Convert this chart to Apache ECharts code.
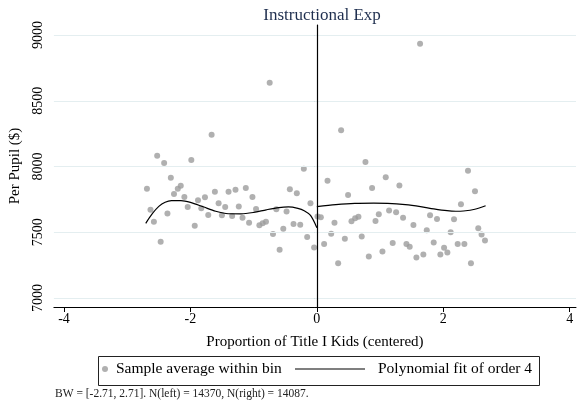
<!DOCTYPE html>
<html>
<head>
<meta charset="utf-8">
<script src="https://cdn.jsdelivr.net/npm/echarts@6/dist/echarts.min.js"></script>
<style>html,body{margin:0;padding:0;background:#fff}#c{width:583px;height:411px}</style>
</head>
<body>
<div id="c"></div>
<script>
const titleText = 'Instructional Exp';
const xTicks = [-4, -2, 0, 2, 4];
const yTicks = [7000, 7500, 8000, 8500, 9000];

const binXLeft = [-2.688,-2.632,-2.578,-2.526,-2.471,-2.416,-2.364,-2.310,-2.260,-2.200,
  -2.153,-2.096,-2.043,-1.986,-1.932,-1.880,-1.828,-1.770,-1.718,-1.665,
  -1.613,-1.554,-1.502,-1.450,-1.397,-1.340,-1.287,-1.235,-1.176,-1.124,
  -1.072,-1.019,-0.962,-0.909,-0.857,-0.805,-0.746,-0.694,-0.641,-0.589,
  -0.531,-0.479,-0.427,-0.369,-0.317,-0.263,-0.206,-0.153,-0.101,-0.043];
const binYLeft = [7831,7672,7580,8082,7428,8027,7643,7915,7791,7831,
  7854,7768,7692,8049,7550,7743,7682,7766,7631,8242,
  7808,7720,7629,7692,7808,7624,7824,7697,7611,7837,
  7573,7768,7677,7553,7568,7580,8637,7487,7675,7367,
  7527,7659,7827,7563,7796,7557,7983,7464,7720,7384];

const binXRight = [0.011,0.063,0.115,0.169,0.227,0.279,0.337,0.384,0.443,0.494,
  0.548,0.606,0.658,0.710,0.769,0.822,0.874,0.928,0.980,1.038,
  1.090,1.143,1.200,1.254,1.306,1.364,1.417,1.469,1.528,1.575,
  1.633,1.685,1.739,1.791,1.849,1.901,1.954,2.013,2.065,2.117,
  2.170,2.228,2.280,2.334,2.391,2.438,2.502,2.554,2.606,2.660];
const binYRight = [7621,7614,7411,7891,7489,7573,7265,8275,7451,7784,
  7583,7606,7619,7468,8034,7316,7837,7586,7637,7354,
  7919,7665,7418,7652,7856,7611,7411,7390,7555,7309,
  8934,7332,7515,7629,7423,7601,7332,7383,7347,7500,
  7599,7411,7713,7411,7967,7265,7812,7530,7484,7438];

const fitXLeft = [-2.707,-2.6,-2.5,-2.4,-2.3,-2.15,-2.0,-1.8,-1.6,-1.4,-1.2,-1.0,-0.8,-0.6,-0.45,-0.3,-0.2,-0.1,0];
const fitYLeft = [7568,7643,7697,7728,7740,7740,7727,7694,7660,7641,7640,7651,7671,7688,7693,7682,7664,7628,7535];
const fitXRight = [0,0.3,0.6,0.9,1.12,1.4,1.64,1.85,2.06,2.2,2.32,2.5,2.67];
const fitYRight = [7695,7710,7720,7722,7720,7710,7695,7678,7664,7660,7662,7675,7702];

const cutoff = 0;
const scatterName = 'Sample average within bin';
const fitName = 'Polynomial fit of order 4';
const footnote = 'BW = [-2.71, 2.71]. N(left) = 14370, N(right) = 14087.';

const serif = '"Liberation Serif", "DejaVu Serif", serif';
const zip = (a, b) => a.map((v, i) => [v, b[i]]);

const chart = echarts.init(document.getElementById('c'), null, {renderer: 'canvas'});
chart.setOption({
  animation: false,
  backgroundColor: '#ffffff',
  title: {
    text: titleText, left: 317, top: 2, textAlign: 'center',
    textStyle: {fontFamily: serif, fontSize: 17, fontWeight: 'normal', color: '#1f2f4f'}
  },
  grid: {left: 53, right: 7, top: 25, bottom: 104, containLabel: false},
  xAxis: {
    type: 'value', min: -4.16, max: 4.1,
    name: 'Proportion of Title I Kids (centered)', nameLocation: 'middle', nameGap: 28,
    nameTextStyle: {fontFamily: serif, fontSize: 15, color: '#000'},
    axisLine: {show: true, lineStyle: {color: '#000', width: 1}},
    axisTick: {show: true, length: 5, customValues: xTicks, lineStyle: {color: '#000'}},
    axisLabel: {show: true, customValues: xTicks, margin: 5, fontFamily: serif, fontSize: 14, color: '#000'},
    splitLine: {show: false}
  },
  yAxis: {
    type: 'value', min: 6932, max: 9076,
    name: 'Per Pupil ($)', nameLocation: 'middle', nameGap: 25, nameRotate: 90,
    nameTextStyle: {fontFamily: serif, fontSize: 15, color: '#000'},
    axisLine: {show: true, lineStyle: {color: '#000', width: 1}},
    axisTick: {show: true, length: 5, customValues: yTicks, lineStyle: {color: '#000'}},
    axisLabel: {show: true, customValues: yTicks, rotate: 90, margin: 9, fontFamily: serif, fontSize: 14, color: '#000',
      formatter: v => String(v)},
    splitLine: {show: false}
  },
  legend: [
    {
      data: [{name: scatterName, icon: 'circle'}],
      left: 102, top: 361, padding: 0, itemWidth: 6, itemHeight: 6,
      textStyle: {fontFamily: serif, fontSize: 15.5, color: '#000', padding: [0, 0, 0, 3]},
      selectedMode: false
    },
    {
      data: [{name: fitName, icon: 'rect'}],
      left: 295, top: 361, padding: 0, itemWidth: 70, itemHeight: 1.2,
      itemStyle: {color: '#000'},
      textStyle: {fontFamily: serif, fontSize: 15.5, color: '#000', padding: [0, 0, 0, 8]},
      selectedMode: false
    }
  ],
  graphic: [
    {type: 'rect', left: 96, top: 354, shape: {width: 441, height: 29},
     style: {fill: 'none', stroke: '#222', lineWidth: 1}, silent: true},
    {type: 'text', left: 55, top: 388,
     style: {text: footnote, font: '11.5px ' + serif, fill: '#222'}}
  ],
  series: [
    {
      type: 'line', name: '_grid', data: [], silent: true,
      markLine: {
        silent: true, symbol: 'none', label: {show: false}, animation: false,
        lineStyle: {color: '#e4eef0', width: 1, type: 'solid'},
        data: yTicks.map(v => ({yAxis: v}))
      },
      z: 1
    },
    {
      type: 'scatter', name: scatterName, data: zip(binXLeft, binYLeft).concat(zip(binXRight, binYRight)),
      symbol: 'circle', symbolSize: 6, itemStyle: {color: '#9c9c9c'}, z: 3
    },
    {
      type: 'line', name: fitName, data: zip(fitXLeft, fitYLeft), smooth: 0.3,
      symbol: 'none', lineStyle: {color: '#000', width: 1.2}, z: 4
    },
    {
      type: 'line', name: fitName, data: zip(fitXRight, fitYRight), smooth: 0.3,
      symbol: 'none', lineStyle: {color: '#000', width: 1.2}, z: 4,
      markLine: {
        silent: true, symbol: 'none', label: {show: false}, animation: false,
        lineStyle: {color: '#000', width: 1.2, type: 'solid'},
        data: [{xAxis: cutoff}]
      }
    }
  ]
});
</script>
</body>
</html>
